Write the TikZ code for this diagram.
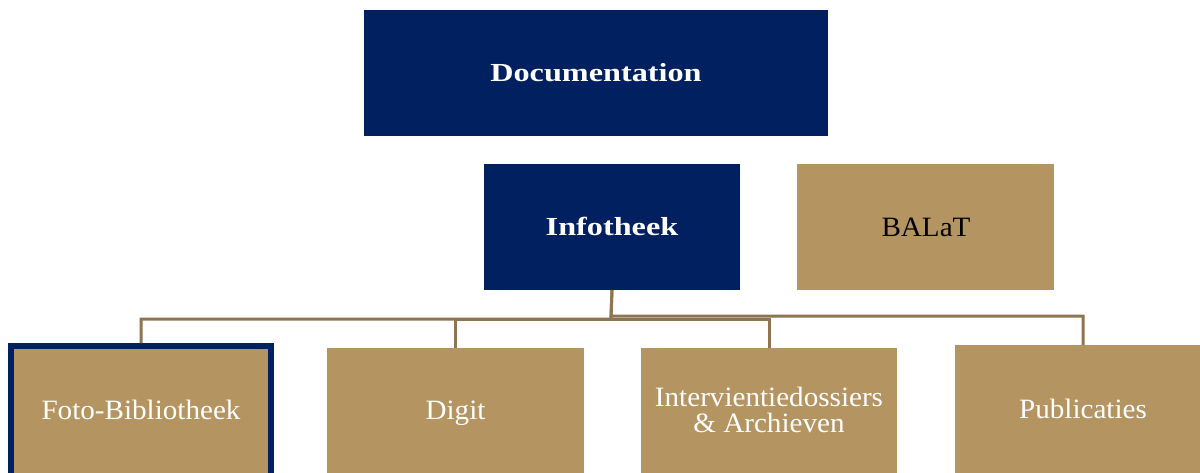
\documentclass[tikz,border=0pt]{standalone}
\usepackage{fontspec}
\setmainfont{Liberation Serif}
\newfontfamily\wideserif[FakeStretch=1.24]{Liberation Serif}
\newfontfamily\regserif[FakeStretch=1.04]{Liberation Serif}
\definecolor{navy}{HTML}{002060}
\definecolor{gold}{HTML}{B49461}
\definecolor{linegold}{HTML}{8E7450}
\tikzset{
  boxnode/.style={rectangle, inner sep=0pt, outer sep=0pt},
  navybox/.style={boxnode, fill=navy},
  goldbox/.style={boxnode, fill=gold},
  navytext/.style={anchor=base, inner sep=0pt, text=white, font=\wideserif\bfseries\fontsize{26}{30}\selectfont},
  goldtext/.style={anchor=base, inner sep=0pt, text=white, font=\regserif\fontsize{28}{27}\selectfont},
  conn/.style={draw=linegold, line width=3pt}
}
\begin{document}
\begin{tikzpicture}[x=1pt,y=-1pt]
\useasboundingbox (0,0) rectangle (1200,472);
\clip (0,0) rectangle (1200,472);
\node[navybox, minimum width=464pt, minimum height=126pt] (doc) at (596,73) {};
\node[navybox, minimum width=256pt, minimum height=126pt] (info) at (612,227) {};
\node[goldbox, minimum width=257pt, minimum height=126pt] (balat) at (925.5,227) {};
\node[goldbox, draw=navy, line width=6pt, outer sep=3pt, minimum width=260pt, minimum height=180pt] (foto) at (141,436) {};
\node[goldbox, minimum width=257pt, minimum height=160pt] (digit) at (455.5,428) {};
\node[goldbox, minimum width=256pt, minimum height=160pt] (interv) at (769,428) {};
\node[goldbox, minimum width=256pt, minimum height=160pt] (publ) at (1083,425) {};
\node[navytext] (docT) at (596,81) {Documentation};
\node[navytext] (infoT) at (612,235) {Infotheek};
\node[goldtext, text=black] (balatT) at (926,236) {BALaT};
\node[goldtext] (fotoT) at (141,419) {Foto-Bibliotheek};
\node[goldtext] (digitT) at (455.5,419) {Digit};
\node[goldtext] (intervT1) at (769,406) {Intervientiedossiers};
\node[goldtext] (intervT2) at (769,432.5) {\& Archieven};
\node[goldtext] (publT) at (1083,418.5) {Publicaties};
\coordinate (busL) at (611,319);
\coordinate (busR) at (611,316);
\draw[conn] (info.south) -- (busL) -| (foto.north);
\draw[conn] (busL) -| (digit.north);
\draw[conn] (busL) -| (interv.north);
\draw[conn] (info.south) -- (busR) -| (publ.north);
\end{tikzpicture}
\end{document}
